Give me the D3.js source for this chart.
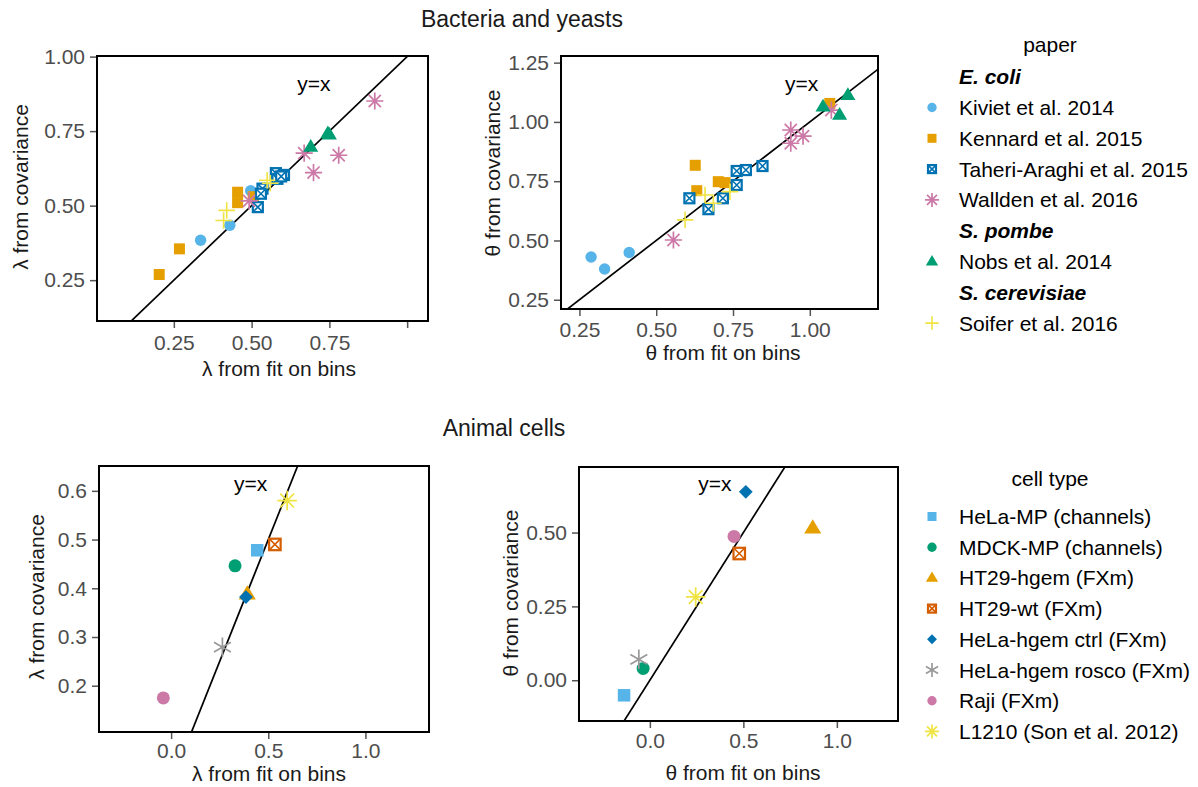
<!DOCTYPE html>
<html>
<head>
<meta charset="utf-8">
<script src="https://cdn.jsdelivr.net/npm/d3@7"></script>
<style>
body { margin: 0; background: #fff; }
text { font-family: "Liberation Sans", Arial, Helvetica, sans-serif; }
</style>
</head>
<body>
<div id="chart"></div>
<script>
////////////////////////////////////////////////////////////
//////////////////////// Data //////////////////////////////
////////////////////////////////////////////////////////////

// bacteria and yeasts: one entry per paper
var papers = ["Kiviet et al. 2014", "Kennard et al. 2015", "Taheri-Araghi et al. 2015",
	"Wallden et al. 2016", "Nobs et al. 2014", "Soifer et al. 2016"];
var paperSpecies = ["E. coli", "E. coli", "E. coli", "E. coli", "S. pombe", "S. cerevisiae"];
var paperColors = ["#56B4E9", "#E69F00", "#0072B2", "#CC79A7", "#009E73", "#F0E442"];
var paperShapes = ["circle", "square", "squarex", "asterisk", "triangle", "plus"];

// [lambda from fit on bins, lambda from covariance]
var lamKiviet = [[0.336, 0.384], [0.43, 0.434], [0.497, 0.55]];
var lamKennard = [[0.203, 0.269], [0.268, 0.355], [0.455, 0.545], [0.455, 0.51], [0.505, 0.53]];
var lamTaheri = [[0.52, 0.495], [0.535, 0.557], [0.53, 0.54], [0.578, 0.609], [0.604, 0.603], [0.583, 0.59], [0.595, 0.598]];
var lamWallden = [[0.492, 0.516], [0.669, 0.676], [0.699, 0.611], [0.78, 0.669], [0.896, 0.851]];
var lamNobs = [[0.69, 0.697], [0.75, 0.738], [0.745, 0.742]];
var lamSoifer = [[0.42, 0.484], [0.41, 0.45], [0.55, 0.585], [0.56, 0.575]];

// [theta from fit on bins, theta from covariance]
var thKiviet = [[0.288, 0.43], [0.332, 0.38], [0.412, 0.449]];
var thKennard = [[0.627, 0.817], [0.632, 0.71], [0.702, 0.748], [0.724, 0.744], [1.065, 1.078]];
var thTaheri = [[0.608, 0.678], [0.67, 0.632], [0.717, 0.678], [0.762, 0.734], [0.762, 0.793], [0.792, 0.797], [0.846, 0.814]];
var thWallden = [[0.556, 0.502], [0.938, 0.966], [0.938, 0.91], [0.978, 0.94], [1.07, 1.05]];
var thNobs = [[1.043, 1.064], [1.097, 1.029], [1.124, 1.113]];
var thSoifer = [[0.594, 0.587], [0.659, 0.692], [0.686, 0.657], [0.74, 0.706]];

// animal cells: one value per cell type
var cellTypes = ["HeLa-MP (channels)", "MDCK-MP (channels)", "HT29-hgem (FXm)", "HT29-wt (FXm)",
	"HeLa-hgem ctrl (FXm)", "HeLa-hgem rosco (FXm)", "Raji (FXm)", "L1210 (Son et al. 2012)"];
var cellColors = ["#56B4E9", "#009E73", "#E69F00", "#D55E00", "#0072B2", "#999999", "#CC79A7", "#F0E442"];
var cellShapes = ["square", "circle", "triangle", "squarex", "diamond", "asterisk6", "circle", "asterisk"];
var cellLamFit = [0.443, 0.329, 0.392, 0.534, 0.385, 0.264, -0.04, 0.597];
var cellLamCov = [0.478, 0.446, 0.388, 0.49, 0.382, 0.279, 0.175, 0.58];
var cellThFit = [-0.138, -0.036, 0.871, 0.478, 0.513, -0.059, 0.45, 0.245];
var cellThCov = [-0.051, 0.04, 0.515, 0.429, 0.638, 0.071, 0.487, 0.282];

////////////////////////////////////////////////////////////
//////////////////////// Setup /////////////////////////////
////////////////////////////////////////////////////////////
var width = 1198, height = 787;

var svg = d3.select("#chart")
	.append("svg")
	.attr("width", width)
	.attr("height", height);

var defs = svg.append("defs");

// draws one marker centred at 0,0 inside g
function marker(g, shape, color, s) {
	if (shape == "circle") {
		g.append("circle").attr("r", s * 0.52).attr("fill", color);
	} else if (shape == "square") {
		g.append("rect").attr("x", -s / 2).attr("y", -s / 2).attr("width", s).attr("height", s).attr("fill", color);
	} else if (shape == "squarex") {
		var h = s / 2 - 0.5;
		g.append("rect").attr("x", -h).attr("y", -h).attr("width", 2 * h).attr("height", 2 * h)
			.attr("fill", "white").attr("stroke", color).attr("stroke-width", 2.2);
		g.append("path").attr("d", "M" + (-h) + "," + (-h) + "L" + h + "," + h + "M" + (-h) + "," + h + "L" + h + "," + (-h))
			.attr("stroke", color).attr("stroke-width", 1.6);
	} else if (shape == "triangle") {
		var r = s * 0.72;
		g.append("polygon")
			.attr("points", "0," + (-r) + " " + (r * 0.95) + "," + (r * 0.6) + " " + (-r * 0.95) + "," + (r * 0.6))
			.attr("fill", color);
	} else if (shape == "diamond") {
		var d = s * 0.55;
		g.append("polygon").attr("points", "0," + (-d) + " " + d + ",0 0," + d + " " + (-d) + ",0").attr("fill", color);
	} else if (shape == "plus") {
		var p = s * 0.75;
		g.append("path").attr("d", "M" + (-p) + ",0L" + p + ",0M0," + (-p) + "L0," + p)
			.attr("stroke", color).attr("stroke-width", 1.6);
	} else {
		// asterisk: 8 arms, asterisk6: 6 arms
		var n = shape == "asterisk6" ? 3 : 4, a = s * 0.78, path = "";
		for (var i = 0; i < n; i++) {
			var ang = Math.PI * i / n;
			path += "M" + (-a * Math.sin(ang)) + "," + (-a * Math.cos(ang)) + "L" + (a * Math.sin(ang)) + "," + (a * Math.cos(ang));
		}
		g.append("path").attr("d", path).attr("stroke", color).attr("stroke-width", 1.7);
	}
}

// one scatter panel with its frame, ticks, y=x line and labels
function panel(p, series) {
	var x = d3.scaleLinear().domain(p.xd).range(p.xr),
	y = d3.scaleLinear().domain(p.yd).range(p.yr);

	var g = svg.append("g").attr("class", "panel");

	var xAxis = g.append("g")
		.attr("transform", "translate(0," + p.yr[0] + ")")
		.call(d3.axisBottom(x).tickValues(p.xt).tickSize(7).tickPadding(p.xpad)
			.tickFormat(function(d, i) { return p.xl[i]; }));
	var yAxis = g.append("g")
		.attr("transform", "translate(" + p.xr[0] + ",0)")
		.call(d3.axisLeft(y).tickValues(p.yt).tickSize(7).tickPadding(5).tickFormat(d3.format(p.yf)));

	[xAxis, yAxis].forEach(function(a) {
		a.select(".domain").remove();
		a.selectAll(".tick line").attr("stroke", "#555").attr("stroke-width", 1.5);
		a.selectAll(".tick text").attr("fill", "#4d4d4d").style("font-size", "21px")
			.style("font-family", "'Liberation Sans', Arial, sans-serif");
	});

	defs.append("clipPath").attr("id", "clip" + p.id)
		.append("rect").attr("x", p.xr[0]).attr("y", p.yr[1])
		.attr("width", p.xr[1] - p.xr[0]).attr("height", p.yr[0] - p.yr[1]);

	var lo = Math.min(p.xd[0], p.yd[0]), hi = Math.max(p.xd[1], p.yd[1]);
	g.append("line")
		.attr("clip-path", "url(#clip" + p.id + ")")
		.attr("x1", x(lo)).attr("y1", y(lo)).attr("x2", x(hi)).attr("y2", y(hi))
		.attr("stroke", "black").attr("stroke-width", 1.7);

	g.append("text")
		.attr("x", x(p.lab[0])).attr("y", y(p.lab[1]))
		.attr("text-anchor", "middle").attr("dominant-baseline", "central")
		.style("font-size", "21px").text("y=x");

	var pts = g.append("g").attr("clip-path", "url(#clip" + p.id + ")");
	series.forEach(function(s) {
		s.pts.forEach(function(d) {
			var m = pts.append("g").attr("transform", "translate(" + x(d[0]) + "," + y(d[1]) + ")");
			marker(m, s.shape, s.color, p.ms);
		});
	});

	g.append("rect")
		.attr("x", p.xr[0]).attr("y", p.yr[1])
		.attr("width", p.xr[1] - p.xr[0]).attr("height", p.yr[0] - p.yr[1])
		.attr("fill", "none").attr("stroke", "black").attr("stroke-width", 2);

	g.append("text")
		.attr("x", p.xtitle[0]).attr("y", p.xtitle[1])
		.attr("text-anchor", "middle").style("font-size", "21px").attr("fill", "#1a1a1a")
		.text(p.xlab);
	g.append("text")
		.attr("transform", "translate(" + p.ytitle[0] + "," + p.ytitle[1] + ") rotate(-90)")
		.attr("text-anchor", "middle").attr("dominant-baseline", "central")
		.style("font-size", "21px").attr("fill", "#1a1a1a")
		.text(p.ylab);
}

////////////////////////////////////////////////////////////
//////////////////////// Panels ////////////////////////////
////////////////////////////////////////////////////////////
var lamTop = [lamKiviet, lamKennard, lamTaheri, lamWallden, lamNobs, lamSoifer];
var thTop = [thKiviet, thKennard, thTaheri, thWallden, thNobs, thSoifer];

function paperSeries(arr) {
	return papers.map(function(d, i) {
		return {shape: paperShapes[i], color: paperColors[i], pts: arr[i]};
	});
}
function cellSeries(fx, fy) {
	return cellTypes.map(function(d, i) {
		return {shape: cellShapes[i], color: cellColors[i], pts: [[fx[i], fy[i]]]};
	});
}

panel({id: "a", xd: [0.003, 1.067], xr: [97, 428], yd: [0.113, 1.002], yr: [321, 56],
	xt: [0.25, 0.5, 0.75, 1.0], xl: ["0.25", "0.50", "0.75", ""], xpad: 7,
	yt: [0.25, 0.5, 0.75, 1.0], yf: ".2f", ms: 11, lab: [0.70, 0.91],
	xlab: "λ from fit on bins", ylab: "λ from covariance",
	xtitle: [279, 376], ytitle: [20, 187]}, paperSeries(lamTop));

panel({id: "b", xd: [0.19, 1.222], xr: [561, 878], yd: [0.211, 1.278], yr: [309, 56],
	xt: [0.25, 0.5, 0.75, 1.0], xl: ["0.25", "0.50", "0.75", "1.00"], xpad: 6,
	yt: [0.25, 0.5, 0.75, 1.0, 1.25], yf: ".2f", ms: 11, lab: [0.973, 1.162],
	xlab: "θ from fit on bins", ylab: "θ from covariance",
	xtitle: [723, 360], ytitle: [492, 173]}, paperSeries(thTop));

panel({id: "c", xd: [-0.371, 1.327], xr: [99, 429], yd: [0.105, 0.651], yr: [732, 466],
	xt: [0, 0.5, 1.0], xl: ["0.0", "0.5", "1.0"], xpad: 4,
	yt: [0.2, 0.3, 0.4, 0.5, 0.6], yf: ".1f", ms: 12.5, lab: [0.409, 0.615],
	xlab: "λ from fit on bins", ylab: "λ from covariance",
	xtitle: [269, 781], ytitle: [36, 597]}, cellSeries(cellLamFit, cellLamCov));

panel({id: "d", xd: [-0.379, 1.327], xr: [579, 898], yd: [-0.138, 0.722], yr: [721, 467],
	xt: [0, 0.5, 1.0], xl: ["0.0", "0.5", "1.0"], xpad: 5,
	yt: [0, 0.25, 0.5], yf: ".2f", ms: 12.5, lab: [0.348, 0.666],
	xlab: "θ from fit on bins", ylab: "θ from covariance",
	xtitle: [743, 780], ytitle: [510, 593]}, cellSeries(cellThFit, cellThCov));

////////////////////////////////////////////////////////////
//////////////////////// Titles ////////////////////////////
////////////////////////////////////////////////////////////
svg.append("text").attr("x", 522).attr("y", 27).attr("text-anchor", "middle")
	.style("font-size", "23px").attr("fill", "#1a1a1a").text("Bacteria and yeasts");
svg.append("text").attr("x", 504).attr("y", 436).attr("text-anchor", "middle")
	.style("font-size", "23px").attr("fill", "#1a1a1a").text("Animal cells");

////////////////////////////////////////////////////////////
//////////////////////// Legends ///////////////////////////
////////////////////////////////////////////////////////////
var lg = svg.append("g").attr("class", "legend");
var step = 30.8;

lg.append("text").attr("x", 1050).attr("y", 52).attr("text-anchor", "middle")
	.style("font-size", "21px").text("paper");

var rows = [], lastSp = null;
papers.forEach(function(d, i) {
	if (paperSpecies[i] != lastSp) { rows.push({head: paperSpecies[i]}); lastSp = paperSpecies[i]; }
	rows.push({label: d, shape: paperShapes[i], color: paperColors[i]});
});
rows.forEach(function(r, i) {
	var yy = 76.7 + i * step;
	if (r.head) {
		lg.append("text").attr("x", 959).attr("y", yy).attr("dominant-baseline", "central")
			.style("font-size", "21px").style("font-weight", "bold").style("font-style", "italic")
			.text(r.head);
	} else {
		marker(lg.append("g").attr("transform", "translate(932," + yy + ")"), r.shape, r.color, 9);
		lg.append("text").attr("x", 959).attr("y", yy).attr("dominant-baseline", "central")
			.style("font-size", "21px").text(r.label);
	}
});

lg.append("text").attr("x", 1050).attr("y", 486).attr("text-anchor", "middle")
	.style("font-size", "21px").text("cell type");
cellTypes.forEach(function(d, i) {
	var yy = 516.5 + i * 30.7;
	marker(lg.append("g").attr("transform", "translate(932," + yy + ")"), cellShapes[i], cellColors[i], 9);
	lg.append("text").attr("x", 959).attr("y", yy).attr("dominant-baseline", "central")
		.style("font-size", "21px").text(d);
});
</script>
</body>
</html>
